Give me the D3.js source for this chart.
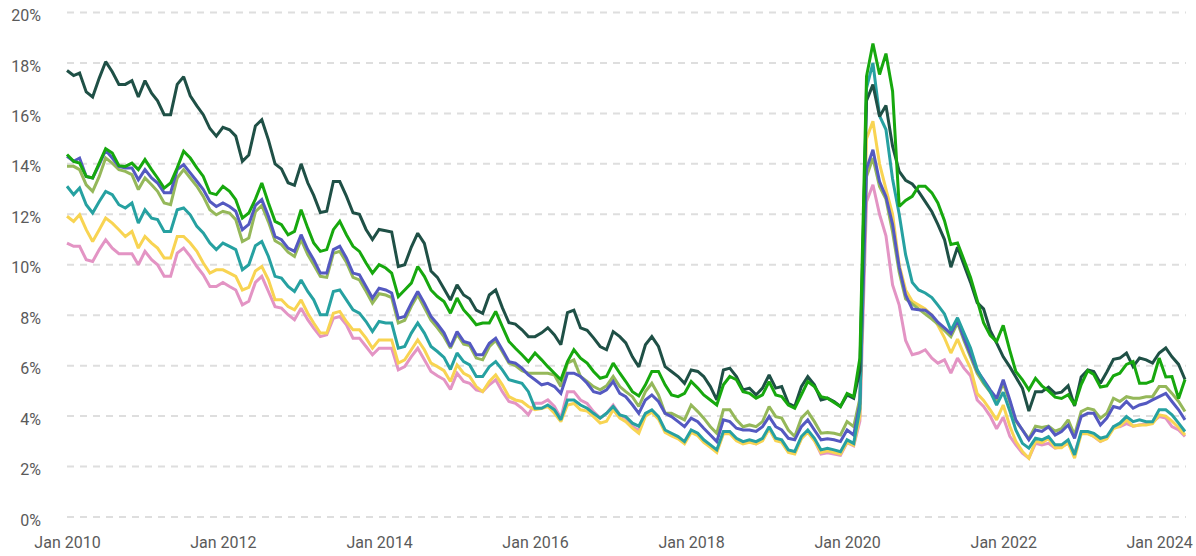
<!DOCTYPE html>
<html>
<head>
<meta charset="utf-8">
<title>Rates 2010-2024</title>
<script src="https://d3js.org/d3.v7.min.js"></script>
<style>
  body { margin: 0; background: #fff; }
  text { font-family: Roboto, "Liberation Sans", sans-serif; }
</style>
</head>
<body>
<script>
// monthly values, Jan 2010 .. May 2024 (percent)
var startMonth = "2010-01";
var yTicks = [0, 2, 4, 6, 8, 10, 12, 14, 16, 18, 20];
var xTickYears = [2010, 2012, 2014, 2016, 2018, 2020, 2022, 2024];

var darkGreen = [
  17.7, 17.5, 17.6, 16.85, 16.65, 17.4, 18.05, 17.65, 17.15, 17.15, 17.3, 16.65,
  17.3, 16.8, 16.5, 15.95, 15.95, 17.15, 17.45, 16.7, 16.3, 15.95, 15.4, 15.1,
  15.45, 15.35, 15.1, 14.1, 14.35, 15.5, 15.75, 14.95, 14.0, 13.8, 13.25, 13.15,
  14.0, 13.25, 12.75, 12.07, 12.12, 13.3, 13.3, 12.72, 12.06, 12.0, 11.4, 11.0,
  11.4, 11.35, 11.3, 9.93, 10.0, 10.7, 11.25, 10.85, 9.75, 9.5, 9.05, 8.6,
  9.2, 8.8, 8.65, 8.2, 8.07, 8.8, 9.0, 8.3, 7.7, 7.65, 7.42, 7.15,
  7.15, 7.3, 7.5, 7.22, 6.83, 8.1, 8.2, 7.5, 7.4, 7.1, 6.76, 6.63,
  7.35, 7.15, 6.9, 6.35, 5.95, 6.83, 7.15, 6.76, 5.96, 5.77, 5.57, 5.3,
  5.83, 5.77, 5.57, 5.17, 4.64, 5.83, 5.9, 5.57, 5.04, 5.11, 4.84, 5.11,
  5.63, 5.11, 5.17, 4.51, 4.38, 5.17, 5.57, 5.24, 4.64, 4.71, 4.58, 4.38,
  4.84, 4.71, 5.8, 16.5, 17.14, 15.88, 16.31, 14.7, 13.7, 13.35, 13.2, 12.9,
  12.5, 12.1, 11.6, 11.0, 9.9, 10.7, 10.0, 9.3, 8.5, 8.25, 7.4, 6.9,
  6.35, 5.95, 5.55, 5.1, 4.2, 4.97, 4.97, 5.15, 4.9, 4.95, 5.2, 4.4,
  5.55, 5.83, 5.77, 5.3, 5.75, 6.25, 6.3, 6.5, 5.96, 6.3, 6.23, 6.1,
  6.5, 6.7, 6.35, 6.05, 5.45
];

var brightGreen = [
  14.37, 14.1, 14.03, 13.5, 13.44, 14.03, 14.6, 14.43, 13.93, 13.9, 14.03, 13.77,
  14.17, 13.77, 13.44, 13.04, 13.24, 13.84, 14.5, 14.23, 13.84, 13.5, 12.85, 12.78,
  13.11, 12.91, 12.58, 11.85, 12.05, 12.6, 13.24, 12.45, 11.72, 11.59, 11.19, 11.32,
  12.18, 11.46, 10.86, 10.53, 10.6, 11.39, 11.72, 11.19, 10.73, 10.53, 10.07, 9.67,
  10.0, 9.87, 9.67, 8.74, 9.0, 9.27, 9.93, 9.54, 9.0, 8.74, 8.54, 8.08,
  8.68, 8.21, 7.95, 7.62, 7.69, 7.69, 8.15, 7.55, 6.96, 6.69, 6.43, 6.16,
  6.5, 6.23, 5.96, 5.7, 5.44, 6.16, 6.63, 6.3, 6.1, 5.77, 5.5, 5.57,
  6.1, 5.7, 5.37, 4.97, 4.8, 5.24, 5.77, 5.77, 5.24, 4.84, 4.77, 4.9,
  5.37, 5.11, 4.84, 4.64, 4.44, 5.24, 5.57, 5.44, 4.97, 4.9, 4.71, 4.84,
  5.37, 4.84, 4.77, 4.44, 4.31, 4.84, 5.37, 5.17, 4.77, 4.71, 4.54, 4.38,
  4.9, 4.77, 6.3, 17.47, 18.77, 17.54, 18.37, 16.88, 12.31, 12.55, 12.71, 13.11,
  13.11, 12.85, 12.45, 11.75, 10.8, 10.86, 10.2, 9.5, 8.6, 7.7, 7.2, 6.95,
  7.6, 6.6, 5.77, 5.44, 5.04, 5.5, 5.2, 5.0, 4.75, 4.7, 4.85, 4.44,
  5.25, 5.8, 5.65, 5.15, 5.2, 5.6, 5.7, 6.05, 6.16, 5.3, 5.3, 5.4,
  6.3, 5.55, 5.57, 4.7, 5.45
];

var blue = [
  14.3, 14.1, 14.23, 13.5, 13.44, 13.97, 14.54, 14.23, 13.9, 13.84, 13.84, 13.37,
  13.77, 13.44, 13.24, 12.85, 12.85, 13.77, 13.97, 13.64, 13.31, 12.98, 12.51, 12.31,
  12.45, 12.31, 12.12, 11.39, 11.6, 12.35, 12.58, 11.92, 11.12, 10.99, 10.66, 10.53,
  11.19, 10.6, 10.2, 9.67, 9.67, 10.6, 10.73, 10.27, 9.67, 9.6, 9.14, 8.68,
  9.07, 9.0, 8.88, 7.88, 7.95, 8.48, 8.94, 8.48, 7.95, 7.65, 7.3, 6.75,
  7.35, 6.96, 6.89, 6.43, 6.43, 6.89, 7.09, 6.63, 6.16, 6.1, 5.9, 5.63,
  5.44, 5.24, 5.3, 5.17, 4.9, 5.7, 5.7, 5.57, 5.3, 4.97, 4.9, 5.04,
  5.37, 4.9, 4.77, 4.45, 4.11, 4.64, 4.84, 4.58, 4.11, 3.98, 3.78, 3.58,
  3.92, 3.78, 3.52, 3.25, 2.99, 3.85, 3.78, 3.52, 3.45, 3.45, 3.39, 3.58,
  3.98, 3.58, 3.45, 3.12, 3.06, 3.58, 3.85, 3.45, 3.06, 3.1, 3.06, 2.99,
  3.45, 3.25, 4.5, 13.8, 14.56, 13.3, 12.7, 11.6, 9.9, 8.8, 8.25, 8.22,
  8.2, 8.0, 7.72, 7.5, 7.27, 7.8, 7.1, 6.45, 5.8, 5.44, 5.04, 4.7,
  5.44, 4.64, 3.85, 3.45, 3.06, 3.45, 3.39, 3.58, 3.25, 3.39, 3.65, 3.12,
  3.98, 4.11, 4.11, 3.65, 3.92, 4.38, 4.31, 4.58, 4.31, 4.44, 4.51, 4.64,
  4.77, 4.9, 4.58, 4.25, 3.85
];

var olive = [
  13.9, 13.9, 13.77, 13.17, 12.91, 13.5, 14.23, 14.03, 13.77, 13.7, 13.57, 12.98,
  13.44, 13.17, 12.91, 12.45, 12.38, 13.44, 13.77, 13.44, 13.11, 12.71, 12.18, 11.98,
  12.12, 12.05, 11.79, 10.92, 11.06, 12.1, 12.35, 11.7, 10.95, 10.8, 10.5, 10.33,
  11.0, 10.4, 10.0, 9.54, 9.5, 10.45, 10.53, 10.1, 9.5, 9.4, 8.95, 8.48,
  8.85, 8.8, 8.7, 7.69, 7.8, 8.35, 8.8, 8.3, 7.8, 7.5, 7.15, 6.7,
  7.25, 6.85, 6.8, 6.3, 6.23, 6.75, 7.0, 6.55, 6.1, 6.0, 5.8, 5.7,
  5.7, 5.7, 5.7, 5.63, 5.17, 6.1, 6.23, 5.57, 5.37, 5.17, 5.04, 5.2,
  5.57, 5.17, 4.97, 4.77, 4.38, 4.97, 5.3, 4.84, 4.11, 4.11, 3.98, 3.85,
  4.44, 4.18, 3.92, 3.58, 3.32, 4.25, 4.25, 3.85, 3.58, 3.65, 3.58, 3.78,
  4.38, 3.98, 3.92, 3.45, 3.19, 3.92, 4.18, 3.78, 3.32, 3.35, 3.32, 3.25,
  3.78, 3.58, 4.7, 13.5, 14.23, 13.1, 12.6, 11.3, 9.7, 8.65, 8.45, 8.25,
  8.05, 7.85, 7.65, 7.4, 7.15, 7.7, 7.0, 6.35, 5.7, 5.3, 4.95, 4.65,
  5.3, 4.55, 3.8, 3.45, 3.1, 3.6, 3.55, 3.6, 3.4, 3.5, 3.85, 3.25,
  4.18, 4.31, 4.25, 3.92, 4.11, 4.71, 4.58, 4.77, 4.71, 4.71, 4.77, 4.77,
  5.17, 5.17, 4.9, 4.58, 4.18
];

var teal = [
  13.11, 12.78, 13.04, 12.38, 12.05, 12.51, 12.91, 12.78, 12.38, 12.25, 12.45, 11.65,
  12.18, 11.85, 11.79, 11.32, 11.32, 12.18, 12.25, 11.98, 11.52, 11.26, 10.86, 10.6,
  10.86, 10.73, 10.6, 9.8, 10.0, 10.75, 10.92, 10.33, 9.54, 9.47, 9.14, 8.94,
  9.4, 8.94, 8.61, 8.02, 8.02, 8.94, 9.0, 8.61, 8.21, 8.08, 7.75, 7.35,
  7.75, 7.69, 7.69, 6.69, 6.76, 7.29, 7.69, 7.29, 6.76, 6.56, 6.33, 5.85,
  6.5, 6.16, 6.03, 5.57, 5.57, 5.96, 6.16, 5.83, 5.44, 5.37, 5.3, 4.97,
  4.31, 4.31, 4.44, 4.25, 3.85, 4.64, 4.64, 4.44, 4.31, 4.11, 3.92, 4.11,
  4.38, 4.05, 3.98, 3.72, 3.6, 4.11, 4.25, 3.98, 3.45, 3.32, 3.19, 2.99,
  3.45, 3.32, 3.06, 2.86, 2.66, 3.39, 3.39, 3.12, 2.99, 3.06, 2.99, 3.12,
  3.58, 3.12, 3.06, 2.66, 2.6, 3.19, 3.45, 3.12, 2.66, 2.72, 2.66, 2.59,
  3.06, 2.92, 4.3, 17.0, 18.0, 15.9, 15.36, 13.4, 12.0, 10.4, 9.3, 9.0,
  8.88, 8.7, 8.4, 8.05, 7.4, 7.9, 7.3, 6.7, 5.85, 5.37, 4.97, 4.44,
  4.95, 4.2, 3.45, 2.92, 2.73, 3.12, 3.06, 3.19, 2.86, 2.86, 3.06, 2.46,
  3.39, 3.39, 3.32, 3.12, 3.19, 3.58, 3.72, 3.98, 3.78, 3.85, 3.78, 3.78,
  4.25, 4.25, 4.05, 3.72, 3.39
];

var yellow = [
  11.92, 11.72, 11.98, 11.39, 10.92, 11.39, 11.85, 11.65, 11.39, 11.12, 11.32, 10.66,
  11.12, 10.86, 10.66, 10.27, 10.27, 11.12, 11.12, 10.86, 10.53, 10.07, 9.67, 9.8,
  9.8, 9.67, 9.54, 9.0, 9.1, 9.75, 9.93, 9.4, 8.61, 8.61, 8.34, 8.21,
  8.61, 8.08, 7.69, 7.29, 7.29, 8.08, 8.15, 7.75, 7.42, 7.42, 7.09, 6.69,
  7.02, 7.02, 7.02, 6.1, 6.23, 6.63, 7.02, 6.63, 6.1, 5.96, 5.8, 5.37,
  6.03, 5.7, 5.57, 5.17, 4.97, 5.37, 5.63, 5.24, 4.77, 4.64, 4.58, 4.38,
  4.25, 4.3, 4.38, 4.11, 3.78, 4.44, 4.5, 4.25, 4.2, 3.98, 3.72, 3.8,
  4.25, 3.92, 3.78, 3.52, 3.32, 4.0, 4.15, 3.88, 3.35, 3.22, 3.1, 2.9,
  3.35, 3.22, 2.96, 2.76, 2.56, 3.3, 3.3, 3.02, 2.9, 2.96, 2.9, 3.02,
  3.5, 3.02, 2.96, 2.56, 2.5, 3.1, 3.36, 3.02, 2.56, 2.62, 2.56, 2.5,
  2.96, 2.85, 4.0, 15.0, 15.69, 14.0, 13.0, 12.0, 10.0, 9.0, 8.55, 8.4,
  8.25, 8.0, 7.6, 7.1, 6.5, 7.05, 6.45, 5.9, 4.9, 4.62, 4.25, 3.85,
  4.44, 3.6, 3.0, 2.6, 2.33, 3.0, 2.95, 3.1, 2.75, 2.75, 2.95, 2.33,
  3.3, 3.3, 3.2, 3.0, 3.1, 3.5, 3.6, 3.85, 3.6, 3.65, 3.65, 3.7,
  4.05, 4.0, 3.8, 3.55, 3.25
];

var pink = [
  10.86, 10.73, 10.73, 10.2, 10.13, 10.6, 10.99, 10.66, 10.44, 10.44, 10.44, 10.0,
  10.53, 10.2, 10.0, 9.54, 9.54, 10.46, 10.66, 10.33, 9.93, 9.6, 9.14, 9.14,
  9.3, 9.14, 9.0, 8.41, 8.55, 9.3, 9.54, 8.94, 8.34, 8.28, 8.02, 7.82,
  8.28, 7.82, 7.49, 7.15, 7.22, 7.88, 7.95, 7.62, 7.09, 7.09, 6.76, 6.43,
  6.69, 6.69, 6.69, 5.83, 5.96, 6.36, 6.69, 6.23, 5.77, 5.6, 5.45, 5.06,
  5.7, 5.37, 5.3, 5.04, 4.97, 5.24, 5.44, 4.97, 4.58, 4.51, 4.31, 4.05,
  4.51, 4.51, 4.64, 4.38, 3.92, 4.97, 4.97, 4.64, 4.5, 4.18, 3.92, 4.11,
  4.44, 4.05, 3.92, 3.6, 3.42, 4.05, 4.2, 3.95, 3.4, 3.28, 3.15, 2.95,
  3.4, 3.28, 3.0, 2.8, 2.6, 3.35, 3.35, 3.08, 2.95, 3.0, 2.9, 3.05,
  3.52, 3.05, 3.0, 2.6, 2.55, 3.12, 3.4, 3.05, 2.5, 2.55, 2.5, 2.45,
  2.95, 2.82, 3.8, 12.5, 13.17, 12.0, 11.15, 9.2, 8.4, 7.0, 6.43, 6.5,
  6.63, 6.3, 6.1, 6.23, 5.7, 6.3, 5.9, 5.6, 4.64, 4.38, 4.0, 3.5,
  3.95, 3.2, 2.86, 2.53, 2.33, 2.92, 2.86, 2.92, 2.73, 2.79, 2.92, 2.53,
  3.32, 3.32, 3.19, 2.99, 3.12, 3.58, 3.58, 3.7, 3.6, 3.65, 3.7, 3.75,
  3.98, 3.92, 3.58, 3.45, 3.19
];

// drawn bottom to top
var series = [
  { name: "pink", color: "#e394c4", values: pink },
  { name: "yellow", color: "#f8d452", values: yellow },
  { name: "olive", color: "#95b85a", values: olive },
  { name: "blue", color: "#5459c1", values: blue },
  { name: "teal", color: "#26a1a1", values: teal },
  { name: "darkGreen", color: "#1f5046", values: darkGreen },
  { name: "brightGreen", color: "#17a80e", values: brightGreen }
];

var w = 1196;
var h = 556;

var parseMonth = d3.timeParse("%Y-%m");
var start = parseMonth(startMonth);
var nMonths = darkGreen.length;
var months = d3.range(nMonths).map(function(i) { return d3.timeMonth.offset(start, i); });

var x = d3.scaleTime()
  .domain([months[0], months[nMonths - 1]])
  .range([67, 1185]);

var y = d3.scaleLinear()
  .domain([0, 20])
  .range([517, 12.5]);

var svg = d3.select("body").append("svg")
  .attr("width", w)
  .attr("height", h);

// gridlines
svg.append("g")
  .selectAll("line")
  .data(yTicks)
  .enter()
  .append("line")
  .attr("x1", 67)
  .attr("x2", 1186)
  .attr("y1", function(d) { return y(d); })
  .attr("y2", function(d) { return y(d); })
  .attr("stroke", "#dedede")
  .attr("stroke-width", 2)
  .attr("stroke-dasharray", "7,6");

// y labels
var yAxis = d3.axisLeft(y)
  .tickValues(yTicks)
  .tickFormat(function(d) { return d + "%"; })
  .tickSize(0)
  .tickPadding(0);

svg.append("g")
  .attr("transform", "translate(41,3)")
  .call(yAxis)
  .call(function(g) { g.select(".domain").remove(); })
  .selectAll("text")
  .attr("font-family", "Roboto, 'Liberation Sans', sans-serif")
  .attr("font-size", "16px")
  .attr("fill", "#5a5a5a");

// x labels
var xAxis = d3.axisBottom(x)
  .tickValues(xTickYears.map(function(yr) { return new Date(yr, 0, 1); }))
  .tickFormat(d3.timeFormat("Jan %Y"))
  .tickSize(0)
  .tickPadding(0);

svg.append("g")
  .attr("transform", "translate(0,537)")
  .call(xAxis)
  .call(function(g) { g.select(".domain").remove(); })
  .selectAll("text")
  .attr("font-family", "Roboto, 'Liberation Sans', sans-serif")
  .attr("font-size", "16px")
  .attr("fill", "#5a5a5a");

// lines
var line = d3.line()
  .x(function(d, i) { return x(months[i]); })
  .y(function(d) { return y(d); });

svg.append("g")
  .selectAll("path")
  .data(series)
  .enter()
  .append("path")
  .attr("d", function(s) { return line(s.values); })
  .attr("fill", "none")
  .attr("stroke", function(s) { return s.color; })
  .attr("stroke-width", 3)
  .attr("stroke-linejoin", "miter")
  .attr("stroke-miterlimit", 2);
</script>
</body>
</html>
